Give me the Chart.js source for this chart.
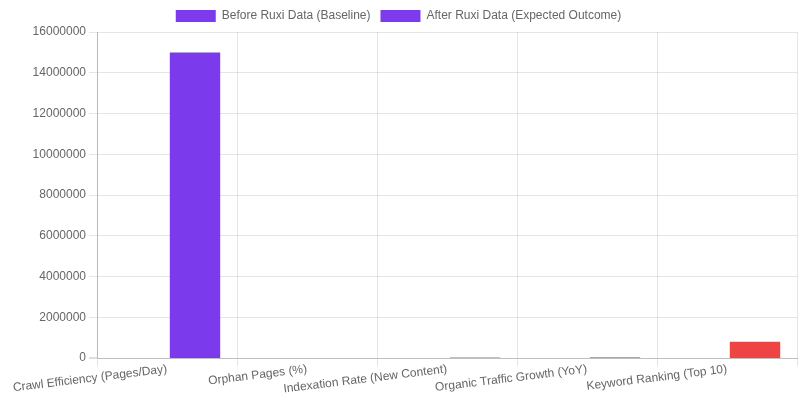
<!DOCTYPE html>
<html>
<head>
<meta charset="utf-8">
<script src="https://cdn.jsdelivr.net/npm/chart.js@4/dist/chart.umd.min.js"></script>
<style>
  body { margin: 0; background: #fff; }
  #wrap { width: 800px; height: 400px; }
</style>
</head>
<body>
<div id="wrap"><canvas id="chart"></canvas></div>
<script>
// categorias y valores
const metricas = [
    "Crawl Efficiency (Pages/Day)",
    "Orphan Pages (%)",
    "Indexation Rate (New Content)",
    "Organic Traffic Growth (YoY)",
    "Keyword Ranking (Top 10)"
];
const antes = [2000, 35, 45, 5, 100];
const despues = [15000000, 5, 20000, 50000, 800000];
const colores = ["#7c3aed", "#ec4899", "#14b8a6", "#f59e0b", "#ef4444"];
const ticksY = [0, 2000000, 4000000, 6000000, 8000000, 10000000, 12000000, 14000000, 16000000];

const config = {
    type: "bar",
    data: {
        labels: metricas,
        datasets: [
            { label: "Before Ruxi Data (Baseline)", data: antes, backgroundColor: colores, inflateAmount: 0 },
            { label: "After Ruxi Data (Expected Outcome)", data: despues, backgroundColor: colores, inflateAmount: 0 }
        ]
    },
    options: {
        responsive: true,
        maintainAspectRatio: false,
        animation: false,
        layout: { padding: { right: 3 } },
        plugins: {
            legend: { labels: { color: "#666" } }
        },
        scales: {
            x: {
                ticks: { color: "#666", padding: -4, minRotation: 7, maxRotation: 7, autoSkip: false },
                grid: { color: "rgba(0,0,0,0.1)" },
                border: { color: "rgba(0,0,0,0.25)" },
                afterFit: (scale) => { scale.height = 42; }
            },
            y: {
                beginAtZero: true,
                min: ticksY[0],
                max: ticksY[ticksY.length - 1],
                ticks: {
                    color: "#666",
                    stepSize: ticksY[1] - ticksY[0],
                    callback: (v) => String(v)
                },
                grid: {
                    color: (ctx) => ctx.tick && ctx.tick.value === 0 ? "rgba(0,0,0,0.25)" : "rgba(0,0,0,0.1)",
                    lineWidth: (ctx) => ctx.tick && ctx.tick.value === 0 ? 0 : 1,
                    tickWidth: 1
                },
                border: { color: "rgba(0,0,0,0.2)" },
                afterFit: (scale) => { scale.width = 97; }
            }
        }
    }
};

new Chart(document.getElementById("chart"), config);
</script>
</body>
</html>
